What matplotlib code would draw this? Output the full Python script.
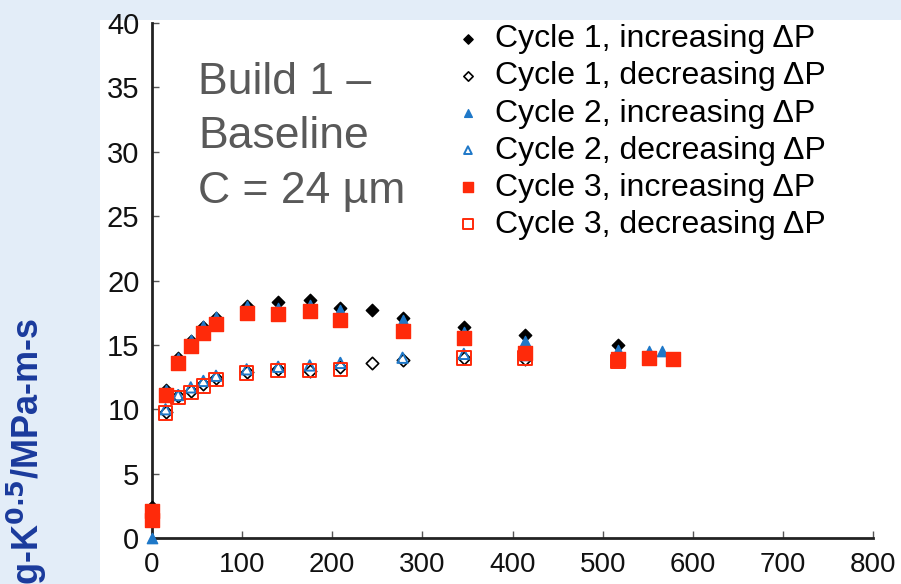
import matplotlib
matplotlib.use("Agg")
import matplotlib.pyplot as plt

plt.rcParams['font.family'] = ['Liberation Sans', 'DejaVu Sans']

# Data (x in arbitrary units as on chart, y values)
c1_inc_x = [0, 15, 29, 43, 57, 71, 105, 140, 175, 209, 244, 278, 346, 414, 517]
c1_inc_y = [2.4, 11.5, 14.0, 15.3, 16.4, 17.1, 18.0, 18.3, 18.5, 17.9, 17.7, 17.1, 16.4, 15.8, 15.0]
c1_dec_x = [15, 29, 43, 57, 71, 105, 140, 175, 209, 244, 278, 346, 414]
c1_dec_y = [9.8, 11.0, 11.4, 12.0, 12.4, 12.9, 13.1, 13.0, 13.3, 13.6, 13.8, 14.0, 13.9]
c2_inc_x = [0, 15, 29, 43, 57, 71, 105, 140, 175, 209, 278, 346, 414, 517, 551, 566]
c2_inc_y = [0.0, 11.5, 14.0, 15.4, 16.5, 17.2, 18.0, 17.9, 18.1, 17.7, 16.9, 16.0, 15.3, 14.6, 14.5, 14.5]
c2_dec_x = [15, 29, 43, 57, 71, 105, 140, 175, 209, 278, 346, 414]
c2_dec_y = [10.0, 11.1, 11.7, 12.2, 12.6, 13.1, 13.3, 13.4, 13.6, 14.0, 14.3, 14.2]
c3_inc_x = [0, 0, 15, 29, 43, 57, 71, 105, 140, 175, 209, 278, 346, 414, 517, 551, 578]
c3_inc_y = [2.1, 1.4, 11.1, 13.6, 14.9, 15.9, 16.6, 17.5, 17.4, 17.6, 16.9, 16.1, 15.5, 14.4, 13.9, 14.0, 13.9]
c3_dec_x = [15, 29, 43, 57, 71, 105, 140, 175, 209, 346, 414, 517]
c3_dec_y = [9.7, 10.9, 11.3, 11.8, 12.3, 12.8, 13.0, 13.0, 13.1, 14.0, 14.0, 13.7]

labels = ["Cycle 1, increasing \u0394P", "Cycle 1, decreasing \u0394P",
          "Cycle 2, increasing \u0394P", "Cycle 2, decreasing \u0394P",
          "Cycle 3, increasing \u0394P", "Cycle 3, decreasing \u0394P"]

fig = plt.figure(figsize=(9.01, 5.84), dpi=100)
fig.patch.set_facecolor('#e3edf8')
# white panel behind the chart
bg = fig.add_axes([100/901, 0, 1 - 100/901, 1 - 20/584], zorder=-10)
bg.set_facecolor('white')
bg.set_xticks([]); bg.set_yticks([])
for s in bg.spines.values():
    s.set_visible(False)

ax = fig.add_axes([152/901, 46/584, (873-152)/901, (538-23)/584], zorder=1)
ax.set_facecolor('none')

blue = '#1f78c8'
red = '#ff2a0a'
h1 = ax.scatter(c1_inc_x, c1_inc_y, marker='D', s=40, color='black', zorder=3, clip_on=False)
h2 = ax.scatter(c1_dec_x, c1_dec_y, marker='D', s=40, facecolor='white', edgecolor='black', linewidth=1.2, zorder=3, clip_on=False)
h3 = ax.scatter(c2_inc_x, c2_inc_y, marker='^', s=55, color=blue, zorder=4, clip_on=False)
h4 = ax.scatter(c2_dec_x, c2_dec_y, marker='^', s=55, facecolor='none', edgecolor=blue, linewidth=1.4, zorder=4, clip_on=False)
h5 = ax.scatter(c3_inc_x, c3_inc_y, marker='s', s=95, color=red, zorder=5, clip_on=False)
h6 = ax.scatter(c3_dec_x, c3_dec_y, marker='s', s=95, facecolor='none', edgecolor=red, linewidth=1.4, zorder=5, clip_on=False)

ax.set_xlim(0, 800)
ax.set_ylim(0, 40)
ax.set_xticks(range(0, 801, 100))
ax.set_yticks(range(0, 41, 5))
for s in ['top', 'right']:
    ax.spines[s].set_visible(False)
for s in ['left', 'bottom']:
    ax.spines[s].set_linewidth(2)
    ax.spines[s].set_color('#222222')
ax.tick_params(direction='in', length=5, width=1, color='#555555',
               labelcolor='#111111')
ax.tick_params(axis='x', labelsize=20, pad=10)
ax.tick_params(axis='y', labelsize=21, pad=9)

# legend
leg = ax.legend([h1, h2, h3, h4, h5, h6], labels, loc='upper left',
                bbox_to_anchor=((436-152)/(873-152), 1.022), frameon=False,
                fontsize=23, handletextpad=0.25, labelspacing=0.22,
                handlelength=1.2, markerscale=0.75, borderaxespad=0)

# annotation text
for txt, yy in [("Build 1 \u2013", 82), ("Baseline", 137), ("C = 24 \u00b5m", 192)]:
    fig.text(198/901, 1 - yy/584, txt, fontsize=32, color='#595959',
             ha='left', va='center')

fig.text(27/901, 1 - 318/584, "kg-K$^{\\mathbf{0.5}}$/MPa-m-s", rotation=90,
         ha='center', va='top', fontsize=26, fontweight='bold', color='#1a3a9c')

fig.savefig('out.png', dpi=100, facecolor=fig.get_facecolor())
